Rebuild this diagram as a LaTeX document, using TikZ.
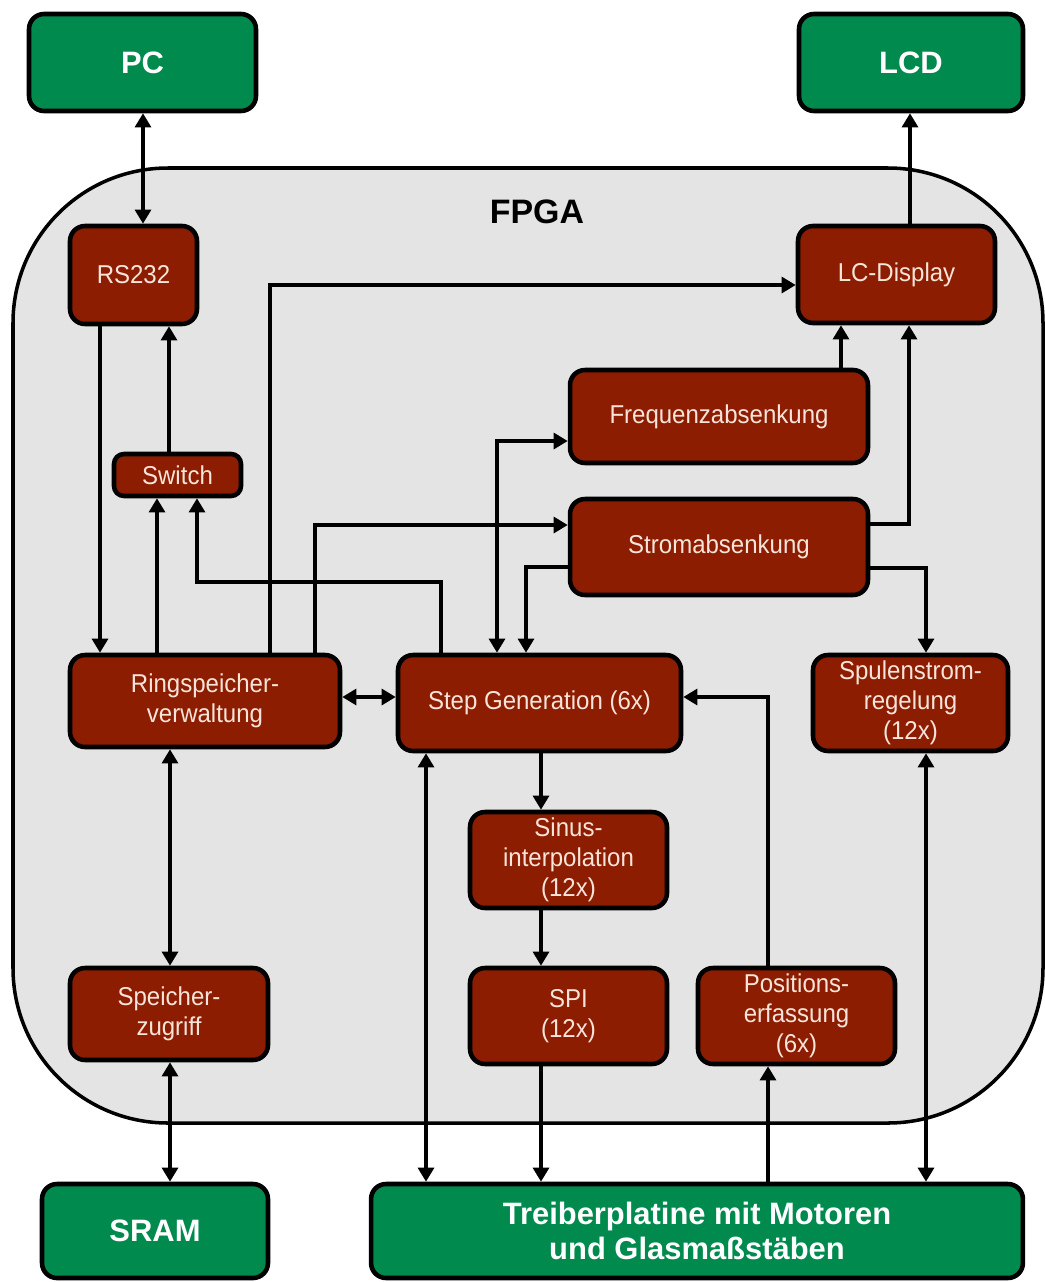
\documentclass[tikz,border=0pt]{standalone}
\usepackage{fontspec}
\setmainfont{Liberation Sans}
\newfontfamily\redfont[FakeStretch=0.93]{Liberation Sans}
\usetikzlibrary{arrows.meta}
\definecolor{grn}{RGB}{0,138,78}
\definecolor{rd}{RGB}{140,29,0}
\definecolor{fpgagray}{RGB}{228,228,228}
\definecolor{rtext}{RGB}{248,228,218}
\begin{document}
\begin{tikzpicture}[x=0.02cm,y=-0.02cm,
  ext/.style={draw=black, line width=2.6pt, fill=grn, rounded corners=0.3cm, text=white,
    font=\fontsize{17.6}{20.4}\selectfont\bfseries, align=center, inner sep=0pt},
  blk/.style={draw=black, line width=2.6pt, fill=rd, rounded corners=0.3cm, text=rtext,
    font=\redfont\fontsize{14.7}{17}\selectfont, align=center, inner sep=0pt},
  con/.style={line width=2pt, -{Triangle[length=8pt,width=9pt]}},
  bicon/.style={line width=2pt, {Triangle[length=8pt,width=9pt]}-{Triangle[length=8pt,width=9pt]}},
  fpgabox/.style={draw=black, line width=2pt, fill=fpgagray, rounded corners=3.1cm}]
\useasboundingbox (0,0) rectangle (1045,1282);
% FPGA background
\draw[fpgabox] (13,168) rectangle (1043,1123);
\node[font=\fontsize{19.3}{22}\selectfont\bfseries] (fpga) at (537,212) {FPGA};
% external boxes
\node[ext, minimum width=4.54cm, minimum height=1.94cm] (PC) at (142.5,62.5) {PC};
\node[ext, minimum width=4.48cm, minimum height=1.94cm] (LCD) at (911,62.5) {LCD};
\node[ext, minimum width=4.52cm, minimum height=1.88cm] (SRAM) at (155,1231) {SRAM};
\node[ext, minimum width=13.04cm, minimum height=1.88cm] (Treiber) at (697,1231) {Treiberplatine mit Motoren\\und Glasmaßstäben};
% FPGA blocks
\node[blk, minimum width=2.54cm, minimum height=1.96cm] (RS232) at (133.5,275) {RS232};
\node[blk, minimum width=3.94cm, minimum height=1.94cm] (LCdisp) at (896.5,274.5) {LC-Display};
\node[blk, minimum width=5.96cm, minimum height=1.86cm] (Freq) at (719,416.5) {Frequenzabsenkung};
\node[blk, minimum width=2.54cm, minimum height=0.84cm, rounded corners=0.2cm] (Switch) at (177.5,475) {Switch};
\node[blk, minimum width=5.96cm, minimum height=1.92cm] (Strom) at (719,547) {Stromabsenkung};
\node[blk, minimum width=5.40cm, minimum height=1.84cm] (Ring) at (205,701) {Ringspeicher-\\verwaltung};
\node[blk, minimum width=5.66cm, minimum height=1.92cm] (Step) at (539.5,703) {Step Generation (6x)};
\node[blk, minimum width=3.90cm, minimum height=1.92cm] (Spulen) at (910.5,703) {Spulenstrom-\\regelung\\(12x)};
\node[blk, minimum width=3.94cm, minimum height=1.92cm] (Sinus) at (568.5,860) {Sinus-\\interpolation\\(12x)};
\node[blk, minimum width=3.96cm, minimum height=1.84cm] (Speicher) at (169,1014) {Speicher-\\zugriff};
\node[blk, minimum width=3.94cm, minimum height=1.92cm] (SPI) at (568.5,1016) {SPI\\(12x)};
\node[blk, minimum width=3.94cm, minimum height=1.92cm] (Pos) at (796.5,1016) {Positions-\\erfassung\\(6x)};
% helper coordinates
\coordinate (a1) at (143,0);
\coordinate (a2) at (100,0);
\coordinate (a3) at (169,0);
\coordinate (a4) at (157,0);
\coordinate (a5) at (441,582);
\coordinate (b5) at (197,582);
\coordinate (a6) at (270,285);
\coordinate (a7) at (315,525);
\coordinate (a8) at (0,697);
\coordinate (a9) at (497,441);
\coordinate (a10) at (526,567);
\coordinate (a11) at (841,0);
\coordinate (a12) at (909,524);
\coordinate (a13) at (926,568);
\coordinate (a14) at (910,0);
\coordinate (a15) at (541,0);
\coordinate (a18) at (426,0);
\coordinate (a19) at (768,697);
\coordinate (a21) at (926,0);
\coordinate (a22) at (170,0);
% connectors
\draw[bicon] (PC.south -| a1) -- (RS232.north -| a1);
\draw[con] (RS232.south -| a2) -- (Ring.north -| a2);
\draw[con] (Switch.north -| a3) -- (RS232.south -| a3);
\draw[con] (Ring.north -| a4) -- (Switch.south -| a4);
\draw[con] (Step.north -| a5) -- (a5) -- (b5) -- (Switch.south -| b5);
\draw[con] (Ring.north -| a6) -- (a6) -- (a6 -| LCdisp.west);
\draw[con] (Ring.north -| a7) -- (a7) -- (a7 -| Strom.west);
\draw[bicon] (Ring.east |- a8) -- (Step.west |- a8);
\draw[bicon] (Step.north -| a9) -- (a9) -- (a9 -| Freq.west);
\draw[con] (Strom.west |- a10) -- (a10) -- (Step.north -| a10);
\draw[con] (Freq.north -| a11) -- (LCdisp.south -| a11);
\draw[con] (Strom.east |- a12) -- (a12) -- (LCdisp.south -| a12);
\draw[con] (Strom.east |- a13) -- (a13) -- (Spulen.north -| a13);
\draw[con] (LCdisp.north -| a14) -- (LCD.south -| a14);
\draw[con] (Step.south -| a15) -- (Sinus.north -| a15);
\draw[con] (Sinus.south -| a15) -- (SPI.north -| a15);
\draw[con] (SPI.south -| a15) -- (Treiber.north -| a15);
\draw[bicon] (Step.south -| a18) -- (Treiber.north -| a18);
\draw[con] (Pos.north -| a19) -- (a19) -- (a19 -| Step.east);
\draw[con] (Treiber.north -| a19) -- (Pos.south -| a19);
\draw[bicon] (Spulen.south -| a21) -- (Treiber.north -| a21);
\draw[bicon] (Ring.south -| a22) -- (Speicher.north -| a22);
\draw[bicon] (Speicher.south -| a22) -- (SRAM.north -| a22);
\end{tikzpicture}
\end{document}
